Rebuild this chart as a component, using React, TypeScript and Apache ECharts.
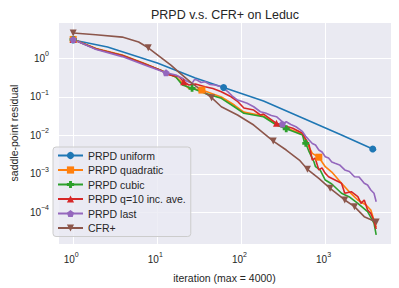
import React, { useEffect, useRef } from 'react';
import * as echarts from 'echarts';

const seriesNames = ['PRPD uniform', 'PRPD quadratic', 'PRPD cubic', 'PRPD q=10 inc. ave.', 'PRPD last', 'CFR+'];

const uniformData: [number, number][] = [
  [1, 2.99], [2.56, 1.97], [10, 0.755], [28.3, 0.308], [61.4, 0.174], [183, 0.0778],
  [533, 0.0281], [1549, 0.0102], [3638, 0.0044], [4000, 0.00416],
];
const uniformMarkers = [1, 61.4, 3638];

const quadraticData: [number, number][] = [
  [1, 3.1], [1.88, 1.79], [3.83, 1.22], [7.07, 0.733], [11.1, 0.482], [16.6, 0.327], [23.7, 0.166],
  [33.9, 0.15], [57.7, 0.0987], [82.3, 0.0612], [107, 0.0401], [140, 0.0357], [183, 0.0316],
  [261, 0.0196], [533, 0.0107], [582, 0.00755], [637, 0.0049], [696, 0.0034], [832, 0.0027],
  [993, 0.00153], [1186, 0.00111], [1549, 0.000566], [1920, 0.00034], [2419, 0.000209],
  [3030, 0.000155], [3452, 0.000115], [4000, 0.000041],
];
const quadraticMarkers = [1, 33.9, 832];

const cubicData: [number, number][] = [
  [1, 3.1], [1.88, 1.74], [3.83, 1.18], [7.07, 0.711], [11.1, 0.482], [16.6, 0.327], [19.9, 0.203],
  [25.9, 0.166], [37, 0.123], [57.7, 0.0914], [82.3, 0.0553], [107, 0.0373], [140, 0.0337],
  [183, 0.0304], [261, 0.0185], [341, 0.0148], [533, 0.0102], [558, 0.00682], [582, 0.0062],
  [637, 0.00375], [728, 0.00206], [760, 0.00153], [861, 0.00126], [993, 0.00069],
  [1186, 0.000543], [1549, 0.000312], [1920, 0.00025], [2419, 0.000171], [3162, 0.000104],
  [3767, 0.000052], [4000, 0.000026],
];
const cubicMarkers = [1, 25.9, 341, 582];

const q10Data: [number, number][] = [
  [1, 3.1], [1.88, 1.74], [3.83, 1.18], [7.07, 0.711], [11.1, 0.482], [13.9, 0.368], [18.1, 0.333],
  [20.6, 0.247], [23.7, 0.203], [28.3, 0.215], [37, 0.183], [45.8, 0.164], [57.7, 0.136],
  [75.4, 0.1006], [89, 0.078], [107, 0.0512], [140, 0.0454], [168, 0.0337], [183, 0.0357],
  [261, 0.0205], [330, 0.0175], [408, 0.0152], [533, 0.0113], [558, 0.0092], [637, 0.0056],
  [696, 0.00228], [752, 0.00257], [832, 0.00126], [908, 0.00142], [993, 0.00103],
  [1086, 0.00084], [1296, 0.00069], [1549, 0.000566], [1692, 0.000312], [2023, 0.000343],
  [2419, 0.000254], [2642, 0.000171], [2885, 0.000209], [3162, 0.000115], [3452, 0.000094],
  [3730, 0.000063], [4000, 0.000037],
];
const q10Markers = [1, 20.6, 261];

const lastData: [number, number][] = [
  [1, 3.1], [1.88, 1.69], [3.83, 1.11], [7.07, 0.67], [11.1, 0.468], [12.7, 0.423], [16.6, 0.368],
  [19.9, 0.303], [22.3, 0.257], [25.9, 0.224], [27.6, 0.281], [29.6, 0.273], [33.2, 0.235],
  [37, 0.247], [42.3, 0.209], [48.3, 0.203], [57.7, 0.183], [68.8, 0.136], [78, 0.105],
  [89.9, 0.0826], [102, 0.0755], [117, 0.0678], [140, 0.0553], [168, 0.041], [193, 0.038],
  [227, 0.0327], [261, 0.0304], [296, 0.0242], [307, 0.0197], [341, 0.0225], [387, 0.0191],
  [445, 0.0167], [492, 0.0142], [533, 0.0124], [577, 0.0096], [637, 0.00755], [696, 0.00612],
  [760, 0.0056], [832, 0.00415], [908, 0.00368], [993, 0.00278], [1086, 0.00257],
  [1186, 0.00202], [1296, 0.00187], [1469, 0.0017], [1692, 0.00126], [1919, 0.00115],
  [2208, 0.00084], [2505, 0.000826], [2885, 0.000566], [3160, 0.000512], [3452, 0.00038],
  [3767, 0.000312], [4000, 0.000188],
];
const lastMarkers = [1, 12.7, 307];

const cfrData: [number, number][] = [
  [1, 4.54], [1.86, 4.1], [3.83, 3.57], [6, 2.65], [7.8, 1.88], [14.5, 0.67], [18, 0.44],
  [25.9, 0.224], [44.2, 0.095], [57.7, 0.0553], [89.9, 0.0337], [140, 0.0185], [239, 0.0071],
  [341, 0.00415], [488, 0.00228], [609, 0.00131], [832, 0.00076], [1133, 0.00042],
  [1692, 0.000209], [2208, 0.00014], [2884, 0.000077], [4000, 0.000056],
];
const cfrMarkers = [1, 7.8, 44.2, 239, 609, 1133, 1692, 2208, 4000];

const COLORS = ['#1f77b4', '#ff7f0e', '#2ca02c', '#d62728', '#9467bd', '#8c564b'];
const SYMBOLS = [
  'circle',
  'rect',
  'path://M3,0H7V3H10V7H7V10H3V7H0V3H3Z',
  'triangle',
  'path://M5,0L10,3.8L8.1,10H1.9L0,3.8Z',
  'path://M0,0H10L5,10Z',
];
const FONT = '"Liberation Sans", Arial, Helvetica, sans-serif';
const TEXT = '#262626';

function toItems(data: [number, number][], markers: number[]) {
  return data.map(([x, y]) => (markers.includes(x) ? { value: [x, y] } : { value: [x, y], symbol: 'none' }));
}

function sup(v: number) {
  const l = Math.log10(v);
  const e = Math.round(l);
  if (Math.abs(l - e) > 1e-6) return '';
  const es = e < 0 ? '\u2212' + -e : String(e);
  return '{b|10}{s|' + es + '}';
}

const rich = {
  b: { fontSize: 10, color: TEXT, fontFamily: FONT },
  s: { fontSize: 7, color: TEXT, fontFamily: FONT, padding: [0, 0, 9, 0] },
};

export default function App() {
  const ref = useRef<HTMLDivElement>(null);
  useEffect(() => {
    if (!ref.current) return;
    const chart = echarts.init(ref.current, undefined, { renderer: 'svg' });
    const datasets = [
      [uniformData, uniformMarkers],
      [quadraticData, quadraticMarkers],
      [cubicData, cubicMarkers],
      [q10Data, q10Markers],
      [lastData, lastMarkers],
      [cfrData, cfrMarkers],
    ] as [[number, number][], number[]][];
    chart.setOption({
      animation: false,
      textStyle: { fontFamily: FONT },
      title: {
        text: 'PRPD v.s. CFR+ on Leduc',
        left: 220,
        textAlign: 'center',
        top: 3,
        textStyle: { fontSize: 12.5, fontWeight: 'normal', color: TEXT, fontFamily: FONT },
      },
      grid: {
        left: 49, right: 8, top: 22, bottom: 44,
        show: true, backgroundColor: '#EAEAF2', borderWidth: 0,
      },
      legend: {
        orient: 'vertical',
        left: 53,
        top: 147,
        data: seriesNames,
        itemWidth: 25,
        itemHeight: 9,
        itemGap: 3.5,
        padding: [3, 5, 3, 4],
        backgroundColor: 'rgba(234,234,242,0.8)',
        borderColor: '#cccccc',
        borderWidth: 1,
        borderRadius: 3,
        textStyle: { fontSize: 10.5, color: TEXT, fontFamily: FONT },
      },
      xAxis: {
        type: 'log',
        logBase: 10,
        min: 0.66,
        max: 6000,
        axisLine: { show: false },
        axisTick: { show: false },
        splitLine: { show: true, lineStyle: { color: '#ffffff', width: 1 } },
        axisLabel: { formatter: sup, rich, margin: 7, padding: [0, 4, 0, 0], showMinLabel: false, showMaxLabel: false },
        name: 'iteration (max = 4000)',
        nameLocation: 'middle',
        nameGap: 28,
        nameTextStyle: { fontSize: 10.5, color: TEXT, fontFamily: FONT },
      },
      yAxis: {
        type: 'log',
        logBase: 10,
        min: 1.5e-5,
        max: 8.8,
        axisLine: { show: false },
        axisTick: { show: false },
        splitLine: { show: true, lineStyle: { color: '#ffffff', width: 1 } },
        axisLabel: { formatter: sup, rich, margin: 9, showMinLabel: false, showMaxLabel: false },
        name: 'saddle-point residual',
        nameLocation: 'middle',
        nameGap: 34,
        nameTextStyle: { fontSize: 10.5, color: TEXT, fontFamily: FONT },
      },
      series: datasets.map(([d, m], i) => ({
        name: seriesNames[i],
        type: 'line',
        data: toItems(d, m),
        symbol: SYMBOLS[i],
        symbolSize: 7,
        showAllSymbol: true,
        lineStyle: { color: COLORS[i], width: 1.6 },
        itemStyle: { color: COLORS[i] },
        emphasis: { disabled: true },
      })),
    });
    return () => chart.dispose();
  }, []);
  return <div ref={ref} style={{ width: 399, height: 288, position: 'absolute', left: 0, top: 0 }} />;
}
